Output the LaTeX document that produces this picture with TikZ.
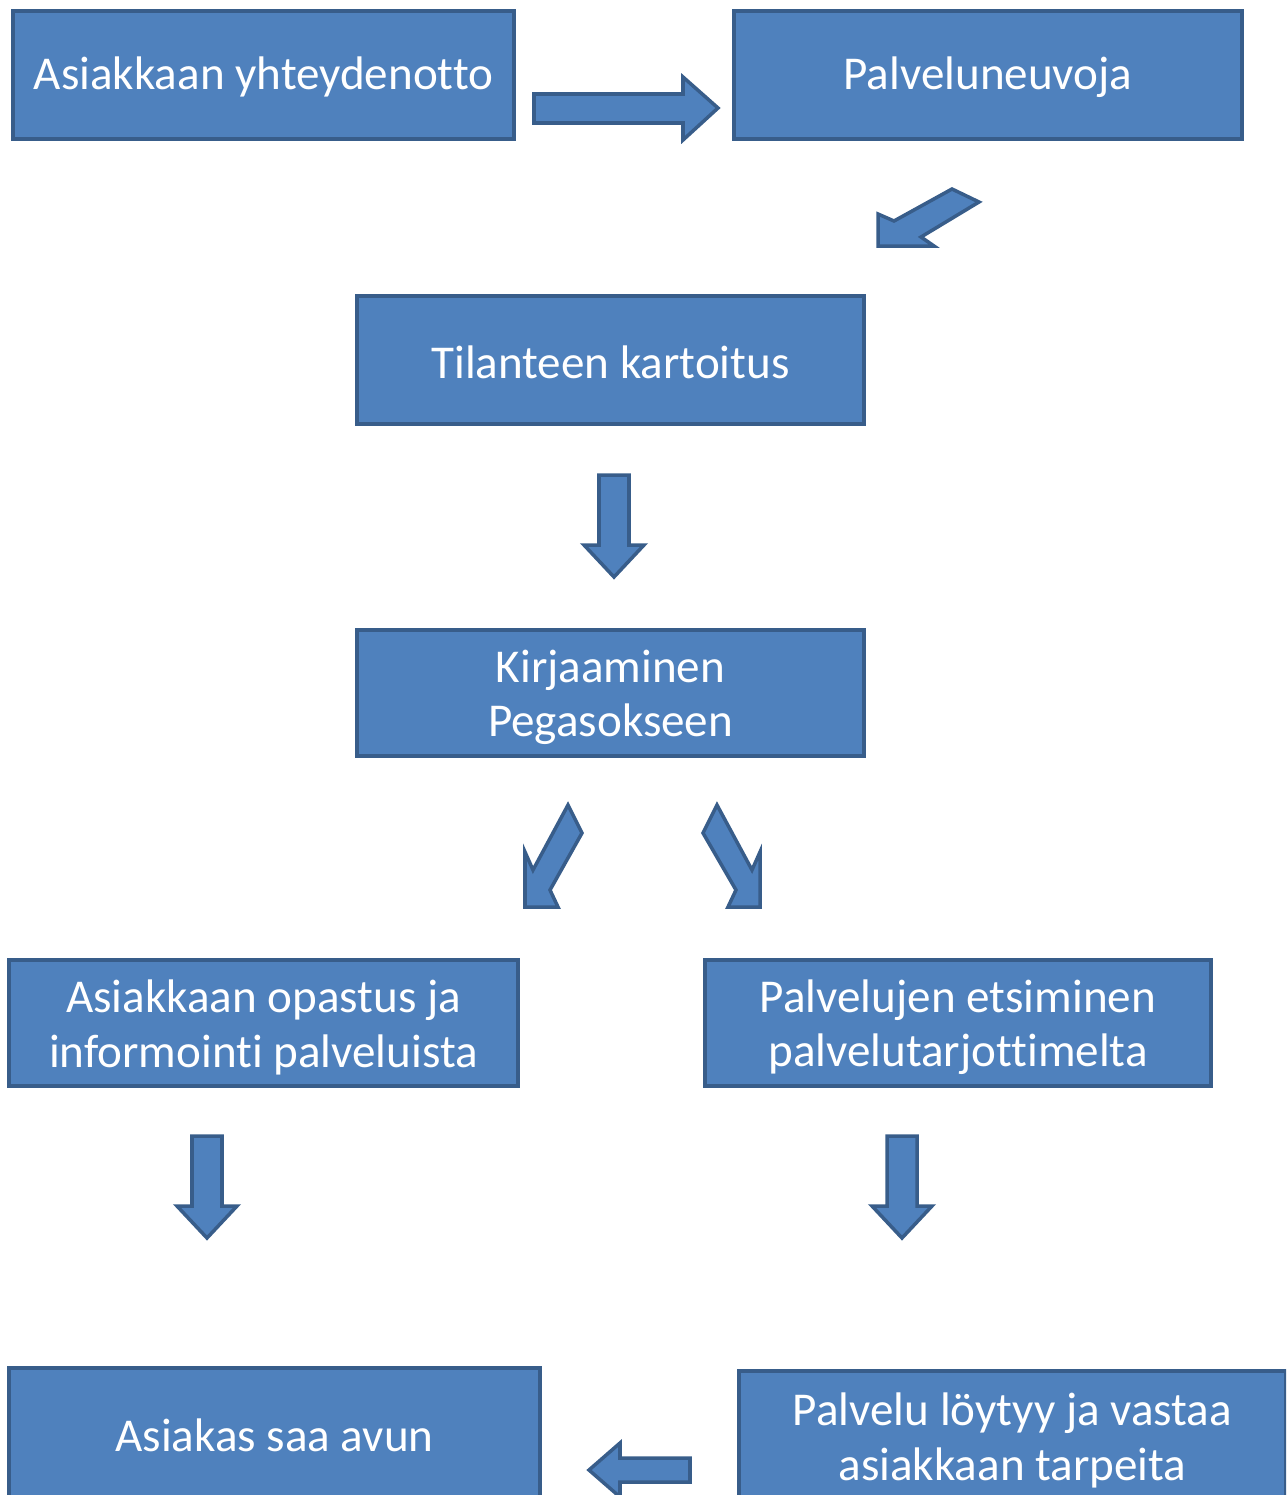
\documentclass[tikz,border=0pt]{standalone}
\usepackage{fontspec}
\setmainfont{Carlito}[Ligatures=NoCommon]
\definecolor{boxfill}{HTML}{4F81BD}
\definecolor{boxline}{HTML}{385D8A}
\newcommand{\lift}[1][0.78em]{\rule{0pt}{#1}}
\tikzset{
  box/.style={rectangle,draw=boxline,fill=boxfill,line width=2.4pt,text=white,align=center,inner sep=0pt,
    font=\fontsize{26.8}{31.2}\selectfont},
  blockarrow/.style={draw=boxline,fill=boxfill,line width=2pt,line join=miter}
}
\begin{document}
\begin{tikzpicture}[x=0.02cm,y=-0.02cm]
    \useasboundingbox (0,0) rectangle (1286,1495);
    \clip (0,0) rectangle (1286,1495);
    \node[box,minimum width=10.02cm,minimum height=2.56cm] (yhteys) 	at (263.5,75) {\lift Asiakkaan yhteydenotto};
    \node[box,minimum width=10.16cm,minimum height=2.56cm] (neuvoja) 	at (988,75) {\lift Palveluneuvoja};
    \node[box,minimum width=10.14cm,minimum height=2.56cm] (kartoitus) at (610.5,360) {\lift Tilanteen kartoitus};
    \node[box,minimum width=10.14cm,minimum height=2.52cm] (kirjaus) 	at (610.5,693) {\lift[0.87em]Kirjaaminen\\Pegasokseen};
    \node[box,minimum width=10.18cm,minimum height=2.52cm] (opastus) 	at (263.5,1023) {\lift[0.87em]Asiakkaan opastus ja\\informointi palveluista};
    \node[box,minimum width=10.12cm,minimum height=2.52cm] (etsinta) 	at (958,1023) {\lift[0.87em]Palvelujen etsiminen\\palvelutarjottimelta};
    \node[box,minimum width=10.62cm,minimum height=2.60cm] (apu) 		at (274.5,1433) {\lift Asiakas saa avun};
    \node[box,minimum width=10.94cm,minimum height=2.60cm] (loytyy) 	at (1012.5,1436) {\lift[0.87em]Palvelu löytyy ja vastaa\\asiakkaan tarpeita};

    % block arrows
    \draw[blockarrow] (534,94) -- (683,94) -- (683,77) -- (718,108) -- (683,140) -- (683,123) -- (534,123) -- cycle;
    \draw[blockarrow] (952,189) -- (979,202) -- (921,237) -- (934,246) -- (878,246) -- (878,214) -- (894,221) -- cycle;
    \draw[blockarrow] (568,805) -- (582,833) -- (550,890) -- (558,907) -- (525,907) -- (525,852) -- (533,870) -- cycle;
    \draw[blockarrow] (717,805) -- (703,833) -- (736,890) -- (728,907) -- (760,907) -- (760,852) -- (752,870) -- cycle;
    \foreach \cx/\top in {614/475,207/1136,902/1136}
      \draw[blockarrow] (\cx-15,\top) -- (\cx+15,\top) -- (\cx+15,\top+70) -- (\cx+30,\top+70)
        -- (\cx,\top+102) -- (\cx-30,\top+70) -- (\cx-15,\top+70) -- cycle;
    \draw[blockarrow] (690,1458) -- (620,1458) -- (620,1443) -- (589,1470) -- (620,1497) -- (620,1482) -- (690,1482) -- cycle;
  \end{tikzpicture}
\end{document}
